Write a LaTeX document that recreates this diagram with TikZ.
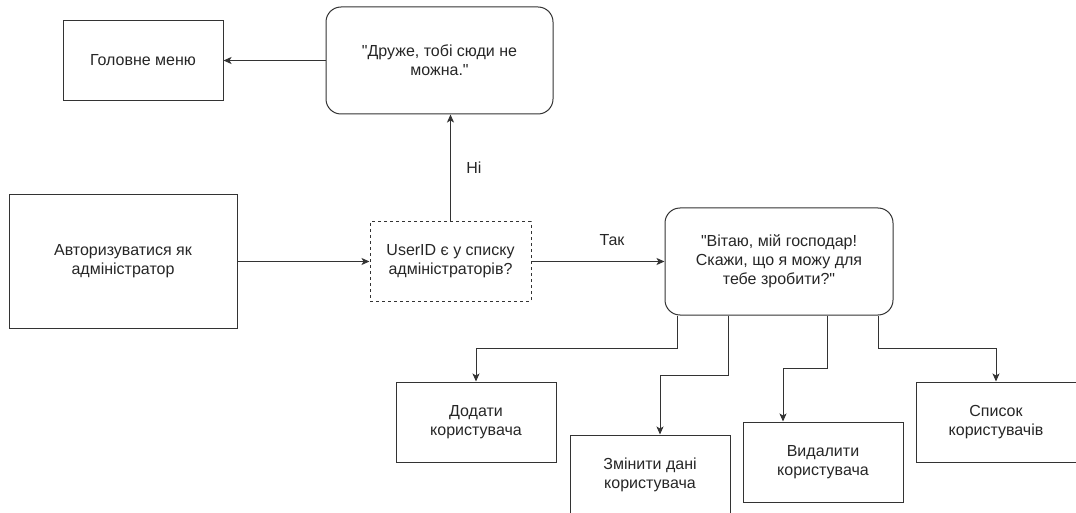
\documentclass[tikz,border=0pt]{standalone}
\usepackage{fontspec}
\setmainfont{Liberation Sans}[Ligatures=TeXOff]
\usetikzlibrary{arrows.meta,positioning}

\begin{document}
\begin{tikzpicture}[x=1pt,y=-1pt,font=\fontsize{16}{19}\selectfont,
  >={Stealth[length=8pt,width=7pt,inset=2pt]},line width=1pt,
  b/.style={draw=black!80,line width=1pt,minimum width=160pt,minimum height=80pt,
    align=center,inner sep=0pt,text=black!85},
  rb/.style={b,rounded corners=15pt,minimum width=227pt,minimum height=107pt},
  ln/.style={draw=black!80,->}]
\useasboundingbox (0,0) rectangle (1076,513);
\clip (0,0) rectangle (1076,513);
\node[b,minimum width=228pt,minimum height=133pt] (auth) at (123,261.5) {Авторизуватися як\\адміністратор};
\node[b,dashed,minimum width=161pt,minimum height=79pt,right=132pt of auth] (check) {UserID є у списку\\адміністраторів?};
\node[rb,above=107pt of check,xshift=-11pt] (deny) {"Друже, тобі сюди не\\можна."};
\node[b,left=102pt of deny] (menu) {Головне меню};
\node[rb,minimum width=228pt,right=133pt of check] (greet) {"Вітаю, мій господар!\\Скажи, що я можу для\\тебе зробити?"};
% actions
\node[b] (add) at (476,422) {Додати\\користувача};
\node[b] (edit) at (650,475) {Змінити дані\\користувача};
\node[b] (del) at (823,462) {Видалити\\користувача};
\node[b] (list) at (996,422) {Список\\користувачів};
\draw[ln] (auth) -- (check);
\draw[ln] (check.north) -- node[right=12pt,text=black!85]{Ні} (check.north |- deny.south);
\draw[ln] (deny) -- (menu);
\draw[ln] (check) -- node[above=12pt,xshift=14pt,text=black!85]{Так} (greet);
\draw[ln] ([xshift=13pt]greet.south west) -- ++(0,33) -| (add.north);
\draw[ln] ([xshift=64pt]greet.south west) -- ++(0,60) -| ([xshift=10pt]edit.north);
\draw[ln] ([xshift=163pt]greet.south west) -- ++(0,53) -| ([xshift=-40pt]del.north);
\draw[ln] ([xshift=214pt]greet.south west) -- ++(0,33) -| (list.north);
\end{tikzpicture}
\end{document}
